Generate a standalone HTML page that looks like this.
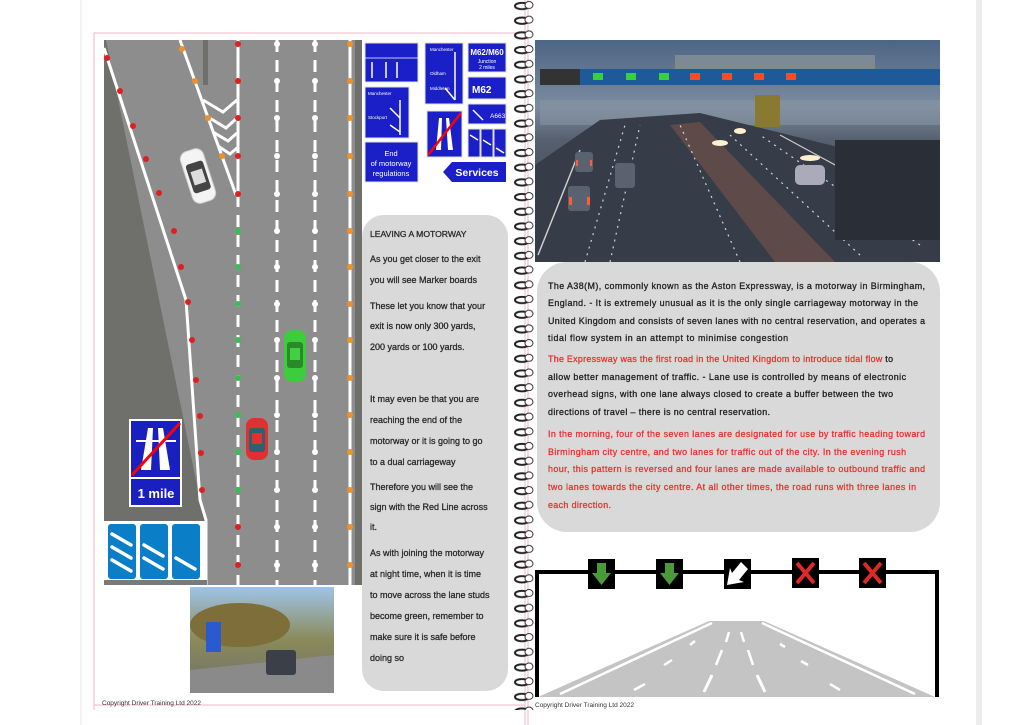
<!DOCTYPE html>
<html><head><meta charset="utf-8"><style>
body{margin:0;background:#fff}
svg{display:block}
text{font-family:"Liberation Sans",sans-serif}
</style></head><body>
<svg width="1020" height="725" viewBox="0 0 1020 725" xmlns="http://www.w3.org/2000/svg">
<defs>
<linearGradient id="ph" x1="0" y1="0" x2="0" y2="1">
<stop offset="0" stop-color="#4d6585"/><stop offset="0.3" stop-color="#7a8ca0"/><stop offset="0.45" stop-color="#56606e"/><stop offset="1" stop-color="#2f3541"/></linearGradient>
<linearGradient id="sp" x1="0" y1="0" x2="0" y2="1">
<stop offset="0" stop-color="#9fc4e8"/><stop offset="0.5" stop-color="#8a8a5a"/><stop offset="1" stop-color="#6f6f6f"/></linearGradient>
<pattern id="ring" x="0" y="0" width="30" height="14.7" patternUnits="userSpaceOnUse">
<ellipse cx="12" cy="6" rx="7" ry="3.2" fill="none" stroke="#222" stroke-width="2"/>
<ellipse cx="19" cy="5" rx="4" ry="3.5" fill="#fff" stroke="#333" stroke-width="1"/>
</pattern>
</defs>
<rect width="1020" height="725" fill="#fff"/>
<rect x="976" y="0" width="6" height="725" fill="#ececec"/>
<rect x="80" y="0" width="2" height="725" fill="#f3f3f3"/>
<path d="M94 710 V33 H525" fill="none" stroke="#f2b6c8" stroke-width="1"/>
<line x1="94" y1="705" x2="525" y2="705" stroke="#f2b6c8"/>
<line x1="525" y1="0" x2="525" y2="725" stroke="#f2b6c8"/>
<line x1="528" y1="0" x2="528" y2="725" stroke="#f2b6c8"/>

<!-- ROAD -->
<rect x="104" y="40" width="258" height="545" fill="#8d8d8d"/>
<polygon points="104,40 106,40 200,500 207,520 207,585 104,585" fill="#6f6f6b"/>
<rect x="355" y="40" width="7" height="545" fill="#6f6f6b"/>
<rect x="203" y="40" width="5" height="45" fill="#6f6f6b"/>
<polyline points="104,48 186,300 200,500 206,520 206,585" fill="none" stroke="#fff" stroke-width="3"/>
<polyline points="180,40 236,195" fill="none" stroke="#fff" stroke-width="3"/>
<g fill="none" stroke="#fff" stroke-width="3">
<polyline points="203,100 223,112 237,100"/>
<polyline points="208,117 226,128 237,118"/>
<polyline points="213,132 228,141 237,133"/>
<polyline points="218,146 230,154 237,148"/>
</g>
<line x1="238" y1="40" x2="238" y2="195" stroke="#fff" stroke-width="3"/>
<line x1="238" y1="195" x2="238" y2="585" stroke="#fff" stroke-width="3" stroke-dasharray="12,8"/>
<line x1="277" y1="40" x2="277" y2="585" stroke="#fff" stroke-width="3" stroke-dasharray="12,8"/>
<line x1="315" y1="40" x2="315" y2="585" stroke="#fff" stroke-width="3" stroke-dasharray="12,8"/>
<line x1="350" y1="40" x2="350" y2="585" stroke="#fff" stroke-width="3"/>
<g fill="#e02020">
<circle cx="107" cy="58" r="3"/><circle cx="120" cy="91" r="3"/><circle cx="133" cy="126" r="3"/><circle cx="146" cy="159" r="3"/><circle cx="159" cy="193" r="3"/><circle cx="174" cy="231" r="3"/><circle cx="181" cy="267" r="3"/><circle cx="188" cy="302" r="3"/><circle cx="192" cy="340" r="3"/><circle cx="196" cy="380" r="3"/><circle cx="200" cy="416" r="3"/><circle cx="201" cy="453" r="3"/><circle cx="202" cy="490" r="3"/><circle cx="238" cy="527" r="3"/><circle cx="238" cy="565" r="3"/>
<circle cx="238" cy="44" r="3"/><circle cx="238" cy="81" r="3"/><circle cx="238" cy="118" r="3"/><circle cx="238" cy="156" r="3"/><circle cx="238" cy="194" r="3"/>
</g>
<g fill="#3bbd55"><circle cx="238" cy="231" r="3"/><circle cx="238" cy="267" r="3"/><circle cx="238" cy="304" r="3"/><circle cx="238" cy="340" r="3"/><circle cx="238" cy="378" r="3"/><circle cx="238" cy="415" r="3"/><circle cx="238" cy="452" r="3"/><circle cx="238" cy="490" r="3"/></g>
<g fill="#f0902a"><circle cx="182" cy="49" r="3"/><circle cx="195" cy="81" r="3"/><circle cx="208" cy="118" r="3"/><circle cx="222" cy="156" r="3"/>
<circle cx="350" cy="44" r="3"/><circle cx="350" cy="81" r="3"/><circle cx="350" cy="118" r="3"/><circle cx="350" cy="156" r="3"/><circle cx="350" cy="194" r="3"/><circle cx="350" cy="231" r="3"/><circle cx="350" cy="267" r="3"/><circle cx="350" cy="304" r="3"/><circle cx="350" cy="340" r="3"/><circle cx="350" cy="378" r="3"/><circle cx="350" cy="415" r="3"/><circle cx="350" cy="452" r="3"/><circle cx="350" cy="490" r="3"/><circle cx="350" cy="527" r="3"/><circle cx="350" cy="565" r="3"/></g>
<g fill="#fff"><circle cx="277" cy="44" r="3"/><circle cx="277" cy="81" r="3"/><circle cx="277" cy="118" r="3"/><circle cx="277" cy="156" r="3"/><circle cx="277" cy="194" r="3"/><circle cx="277" cy="231" r="3"/><circle cx="277" cy="267" r="3"/><circle cx="277" cy="304" r="3"/><circle cx="277" cy="340" r="3"/><circle cx="277" cy="378" r="3"/><circle cx="277" cy="415" r="3"/><circle cx="277" cy="452" r="3"/><circle cx="277" cy="490" r="3"/><circle cx="277" cy="527" r="3"/><circle cx="277" cy="565" r="3"/>
<circle cx="315" cy="44" r="3"/><circle cx="315" cy="81" r="3"/><circle cx="315" cy="118" r="3"/><circle cx="315" cy="156" r="3"/><circle cx="315" cy="194" r="3"/><circle cx="315" cy="231" r="3"/><circle cx="315" cy="267" r="3"/><circle cx="315" cy="304" r="3"/><circle cx="315" cy="340" r="3"/><circle cx="315" cy="378" r="3"/><circle cx="315" cy="415" r="3"/><circle cx="315" cy="452" r="3"/><circle cx="315" cy="490" r="3"/><circle cx="315" cy="527" r="3"/><circle cx="315" cy="565" r="3"/></g>
<g transform="translate(198,176) rotate(-18)"><rect x="-12" y="-27" width="24" height="54" rx="8" fill="#f4f4f4" stroke="#ccc"/><rect x="-9" y="-14" width="18" height="30" rx="3" fill="#444"/><rect x="-6" y="-6" width="12" height="14" fill="#ddd"/></g>
<g><rect x="284" y="330" width="22" height="52" rx="8" fill="#3ccc3c"/><rect x="287" y="342" width="16" height="26" rx="3" fill="#2a8a2a"/><rect x="290" y="348" width="10" height="12" fill="#40d040"/></g>
<g><rect x="246" y="418" width="22" height="42" rx="8" fill="#e03030"/><rect x="249" y="428" width="16" height="24" rx="3" fill="#2f5f70"/><rect x="252" y="433" width="10" height="11" fill="#e03030"/></g>
<rect x="129" y="419" width="53" height="88" fill="#fff"/>
<rect x="131" y="421" width="49" height="56" fill="#1a1fc0"/>
<rect x="131" y="479" width="49" height="26" fill="#1a1fc0"/>
<polygon points="148,428 153,428 151,470 141,470" fill="#fff"/><polygon points="158,428 163,428 170,470 160,470" fill="#fff"/>
<rect x="136" y="440" width="40" height="2" fill="#fff"/>
<line x1="132" y1="475" x2="180" y2="423" stroke="#f00" stroke-width="3"/>
<text x="156" y="498" font-size="13" font-weight="bold" fill="#fff" text-anchor="middle">1 mile</text>
<rect x="104" y="521" width="103" height="64" fill="#fff"/>
<rect x="104" y="580" width="103" height="5" fill="#7a7a7a"/>
<g fill="#0a7fc8"><rect x="108" y="524" width="28" height="55" rx="3"/><rect x="140" y="524" width="28" height="55" rx="3"/><rect x="172" y="524" width="28" height="55" rx="3"/></g>
<g stroke="#fff" stroke-width="3.5" stroke-linecap="round">
<line x1="112" y1="534" x2="131" y2="545"/><line x1="112" y1="547" x2="131" y2="558"/><line x1="112" y1="560" x2="131" y2="571"/>
<line x1="144" y1="545" x2="163" y2="556"/><line x1="144" y1="558" x2="163" y2="569"/>
<line x1="176" y1="558" x2="195" y2="569"/></g>
<!-- small photo -->
<rect x="190" y="587" width="144" height="106" fill="url(#sp)"/>
<ellipse cx="240" cy="625" rx="50" ry="22" fill="#7d6e3a"/>
<polygon points="190,693 190,670 334,655 334,693" fill="#8a8a8a"/>
<rect x="206" y="622" width="15" height="30" fill="#2a5ad0"/>
<rect x="266" y="650" width="30" height="25" rx="3" fill="#3a3f48"/>
<!-- small blue signs -->
<g fill="#1a1fc8" stroke="#ddd" stroke-width="1">
<rect x="365" y="43" width="53" height="39"/><rect x="365" y="87" width="44" height="51"/><rect x="365" y="142" width="53" height="40"/>
<rect x="425" y="43" width="38" height="61"/><rect x="427" y="111" width="35" height="46"/>
<rect x="468" y="43" width="38" height="29"/><rect x="468" y="77" width="38" height="22"/><rect x="468" y="104" width="38" height="20"/>
<rect x="468" y="129" width="12" height="28"/><rect x="481" y="129" width="12" height="28"/><rect x="494" y="129" width="12" height="28"/>
</g>
<polygon points="452,162 506,162 506,182 452,182 443,172" fill="#1a1fc8"/>
<text x="477" y="176" font-size="10.5" font-weight="bold" fill="#fff" text-anchor="middle">Services</text>
<text x="391" y="156" font-size="7.5" fill="#fff" text-anchor="middle">End</text>
<text x="391" y="166" font-size="7.5" fill="#fff" text-anchor="middle">of motorway</text>
<text x="391" y="176" font-size="7.5" fill="#fff" text-anchor="middle">regulations</text>
<text x="487" y="55" font-size="8" font-weight="bold" fill="#fff" text-anchor="middle">M62/M60</text>
<text x="487" y="63" font-size="5" fill="#fff" text-anchor="middle">Junction</text>
<text x="487" y="69" font-size="5" fill="#fff" text-anchor="middle">2 miles</text>
<text x="472" y="93" font-size="10" font-weight="bold" fill="#fff">M62</text>
<text x="490" y="118" font-size="6.5" fill="#fff">A663</text>
<text x="430" y="51" font-size="4.5" fill="#fff">Manchester</text>
<text x="430" y="75" font-size="4.5" fill="#fff">Oldham</text>
<text x="430" y="90" font-size="4.5" fill="#fff">Middleton</text>
<text x="368" y="95" font-size="4.5" fill="#fff">Manchester</text>
<text x="368" y="119" font-size="4.5" fill="#fff">Stockport</text>
<g stroke="#fff" stroke-width="1.5" fill="none">
<line x1="372" y1="78" x2="372" y2="62"/><line x1="386" y1="78" x2="386" y2="62"/><line x1="397" y1="78" x2="397" y2="62"/>
<line x1="365" y1="58" x2="418" y2="58" stroke-width="0.8"/>
<polyline points="455,52 455,100"/><line x1="445" y1="88" x2="455" y2="100"/>
<polyline points="400,100 400,135"/><line x1="390" y1="108" x2="400" y2="118"/><line x1="390" y1="125" x2="400" y2="132"/>
<line x1="473" y1="110" x2="483" y2="120"/>
<line x1="470" y1="135" x2="478" y2="140"/><line x1="483" y1="140" x2="491" y2="145"/><line x1="496" y1="148" x2="504" y2="153"/>
</g>
<polygon points="439,118 442,118 441,150 436,150" fill="#fff"/><polygon points="446,118 449,118 453,150 448,150" fill="#fff"/>
<line x1="428" y1="155" x2="461" y2="113" stroke="#f00" stroke-width="2.5"/>
<!-- left text box -->
<rect x="362" y="215" width="146" height="476" rx="22" fill="#d9d9d9"/>
<g font-size="9" fill="#2a2a2a" stroke="#2a2a2a" stroke-width="0.3">
<text x="370" y="237" font-size="8.6">LEAVING A MOTORWAY</text>
<text x="370" y="262">As you get closer to the exit</text>
<text x="370" y="283">you will see Marker boards</text>
<text x="370" y="309">These let you know that your</text>
<text x="370" y="329">exit is now only 300 yards,</text>
<text x="370" y="350">200 yards or 100 yards.</text>
<text x="370" y="402">It may even be that you are</text>
<text x="370" y="423">reaching the end of the</text>
<text x="370" y="444">motorway or it is going to go</text>
<text x="370" y="465">to a dual carriageway</text>
<text x="370" y="490">Therefore you will see the</text>
<text x="370" y="510">sign with the Red Line across</text>
<text x="370" y="530">it.</text>
<text x="370" y="556">As with joining the motorway</text>
<text x="370" y="577">at night time, when it is time</text>
<text x="370" y="598">to move across the lane studs</text>
<text x="370" y="619">become green, remember to</text>
<text x="370" y="640">make sure it is safe before</text>
<text x="370" y="661">doing so</text>
</g>
<text x="102" y="705" font-size="6.5" fill="#333">Copyright Driver Training Ltd 2022</text>
<rect x="506" y="0" width="32" height="710" fill="url(#ring)"/>
<!-- big photo -->
<rect x="535" y="40" width="405" height="222" fill="url(#ph)"/>
<rect x="540" y="100" width="400" height="25" fill="#8894a2" opacity="0.6"/>
<polygon points="535,262 535,165 600,120 700,113 850,150 940,210 940,262" fill="#363c48"/>
<polygon points="670,125 700,122 835,262 775,262" fill="#5e4a48"/>
<g stroke="#cfd4dc" stroke-width="1.2" stroke-dasharray="2,5" fill="none">
<line x1="585" y1="262" x2="625" y2="125"/><line x1="610" y1="262" x2="640" y2="125"/><line x1="740" y1="262" x2="680" y2="125"/>
<line x1="860" y1="255" x2="730" y2="135"/><line x1="920" y1="245" x2="760" y2="135"/></g>
<line x1="538" y1="255" x2="580" y2="150" stroke="#ccc" stroke-width="1.5"/>
<line x1="940" y1="222" x2="780" y2="135" stroke="#ccc" stroke-width="1.2"/>
<rect x="675" y="55" width="200" height="15" fill="#7d8a96"/>
<rect x="540" y="69" width="400" height="16" fill="#1e5a9a"/>
<rect x="540" y="69" width="40" height="16" fill="#333"/>
<g fill="#38d040"><rect x="593" y="73" width="10" height="7"/><rect x="626" y="73" width="10" height="7"/><rect x="659" y="73" width="10" height="7"/></g>
<g fill="#ff4a2a"><rect x="690" y="73" width="10" height="7"/><rect x="722" y="73" width="10" height="7"/><rect x="754" y="73" width="10" height="7"/><rect x="786" y="73" width="10" height="7"/></g>
<rect x="835" y="140" width="105" height="100" fill="#2a2e36"/>
<rect x="755" y="95" width="25" height="32" fill="#8a7a30"/>
<g fill="#5a6270"><rect x="575" y="152" width="18" height="20" rx="3"/><rect x="615" y="163" width="20" height="25" rx="3"/><rect x="568" y="186" width="22" height="25" rx="3"/><rect x="795" y="165" width="30" height="20" rx="5" fill="#aab"/></g>
<g fill="#ff5a3a"><rect x="576" y="160" width="2" height="6"/><rect x="590" y="160" width="2" height="6"/><rect x="569" y="197" width="3" height="8"/><rect x="587" y="197" width="3" height="8"/></g>
<g fill="#fff0d0"><ellipse cx="720" cy="143" rx="8" ry="3"/><ellipse cx="740" cy="131" rx="6" ry="3"/><ellipse cx="810" cy="158" rx="10" ry="3"/></g>
<!-- right text box -->
<rect x="537" y="262" width="403" height="270" rx="30" fill="#d9d9d9"/>
<g font-size="8.9" fill="#222" stroke="#222" stroke-width="0.3">
<text x="548" y="289" textLength="377">The A38(M), commonly known as the Aston Expressway, is a motorway in Birmingham,</text>
<text x="548" y="306" textLength="370">England. - It is extremely unusual as it is the only single carriageway motorway in the</text>
<text x="548" y="324" textLength="377">United Kingdom and consists of seven lanes with no central reservation, and operates a</text>
<text x="548" y="341" textLength="240">tidal flow system in an attempt to minimise congestion</text>
<text x="548" y="362" textLength="345"><tspan fill="#f03030" stroke="#f03030">The Expressway was the first road in the United Kingdom to introduce tidal flow</tspan> to</text>
<text x="548" y="380" textLength="358">allow better management of traffic. - Lane use is controlled by means of electronic</text>
<text x="548" y="397" textLength="345">overhead signs, with one lane always closed to create a buffer between the two</text>
<text x="548" y="415" textLength="222">directions of travel – there is no central reservation.</text>
</g>
<g font-size="8.9" fill="#f03030" stroke="#f03030" stroke-width="0.3">
<text x="548" y="437" textLength="377">In the morning, four of the seven lanes are designated for use by traffic heading toward</text>
<text x="548" y="455" textLength="358">Birmingham city centre, and two lanes for traffic out of the city. In the evening rush</text>
<text x="548" y="472" textLength="377">hour, this pattern is reversed and four lanes are made available to outbound traffic and</text>
<text x="548" y="490" textLength="368">two lanes towards the city centre. At all other times, the road runs with three lanes in</text>
<text x="548" y="508" textLength="63">each direction.</text>
</g>
<!-- gantry -->
<polygon points="538,697 935,697 764,621 709,621" fill="#c4c4c4"/>
<g stroke="#fff" stroke-width="2.5">
<line x1="560" y1="694" x2="712" y2="623"/><line x1="915" y1="694" x2="762" y2="623"/>
<line x1="704" y1="692" x2="712" y2="675" stroke-width="3"/><line x1="716" y1="665" x2="722" y2="650"/><line x1="726" y1="642" x2="729" y2="632"/>
<line x1="765" y1="692" x2="757" y2="675" stroke-width="3"/><line x1="753" y1="665" x2="748" y2="650"/><line x1="744" y1="642" x2="741" y2="632"/>
<line x1="634" y1="690" x2="645" y2="684"/><line x1="664" y1="665" x2="672" y2="660"/><line x1="690" y1="645" x2="695" y2="641"/>
<line x1="830" y1="684" x2="840" y2="690"/><line x1="801" y1="661" x2="808" y2="665"/><line x1="780" y1="644" x2="785" y2="647"/>
</g>
<path d="M537 697 V572 H937 V697" fill="none" stroke="#000" stroke-width="4"/>
<g fill="#000"><rect x="588" y="559" width="27" height="30"/><rect x="656" y="559" width="27" height="30"/><rect x="724" y="559" width="27" height="30"/><rect x="792" y="558" width="27" height="30"/><rect x="859" y="558" width="27" height="30"/></g>
<g fill="#4a9a3a"><polygon points="597,563 606,563 606,573 611,573 601.5,585 592,573 597,573"/><polygon points="665,563 674,563 674,573 679,573 669.5,585 660,573 665,573"/></g>
<polygon points="745,566 741,562 732,573 730,568 727,585 744,582 739,580 748,569" fill="#fff"/>
<g stroke="#e02828" stroke-width="4"><line x1="797" y1="563" x2="814" y2="583"/><line x1="814" y1="563" x2="797" y2="583"/><line x1="864" y1="563" x2="881" y2="583"/><line x1="881" y1="563" x2="864" y2="583"/></g>
<text x="535" y="707" font-size="6.5" fill="#333">Copyright Driver Training Ltd 2022</text>
</svg>
</body></html>
